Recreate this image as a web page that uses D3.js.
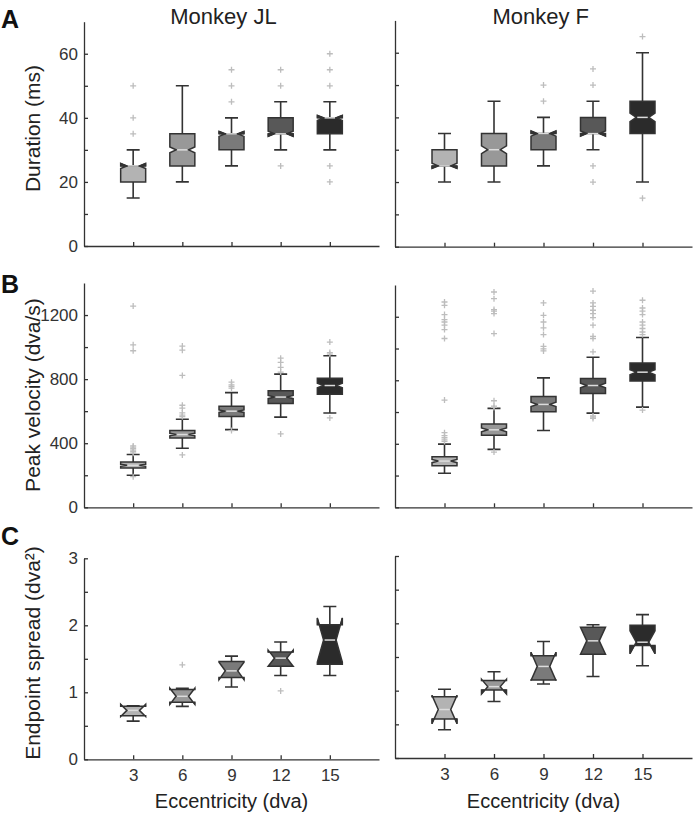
<!DOCTYPE html>
<html><head><meta charset="utf-8">
<script src="https://cdn.jsdelivr.net/npm/d3@7"></script>
<style>
body{margin:0;background:#fff}
text{font-family:"Liberation Sans",Arial,Helvetica,sans-serif}
</style>
</head><body>
<svg id="chart" width="694" height="815"></svg>
<script>
// ---------- DATA ----------
const eccentricities = [3, 6, 9, 12, 15];
const panelTitles = ["Monkey JL", "Monkey F"];
const rowLabels = ["Duration (ms)", "Peak velocity (dva/s)", "Endpoint spread (dva²)"];
const panelLetters = ["A", "B", "C"];
const xAxisLabel = "Eccentricity (dva)";

// each row: [whiskerLow, q1, median, q3, whiskerHigh, notchHalf]
const durationJL = [[15,20,25,25,30,0.8],[20,25,30,35,50,0.9],[25,30,35,35,40,0.8],[30,35,35,40,45,0.8],[30,35,40,40,45,0.8]];
const durationJLOut = [[35,40,50],[],[45,50,55],[25,50,55],[20,25,50,55,60]];
const durationF = [[20,25,25,30,35,0.8],[20,25,30,35,45,1.2],[25,30,35,35,40,0.8],[30,35,35,40,45,0.8],[20,35,40,45,60,1.3]];
const durationFOut = [[],[],[45,50],[20,25,50,55],[15,65]];

const velocityJL = [[200,245,262,282,330,6],[369,433,454,479,550,8],[485,566,600,631,716,8],[563,648,688,727,831,10],[589,706,760,806,946,14]];
const velocityJLOut = [
  [191,338,348,357,366,375,383,977,1014,1256],
  [327,566,575,589,619,637,823,981,1006],
  [479,744,755,764,781],
  [458,844,873,904,931],
  [558,956,966,1031]];
const velocityF = [[214,262,291,318,398,10],[365,453,488,524,623,12],[484,601,648,698,815,14],[593,717,767,811,945,14],[631,796,851,908,1069,16]];
const velocityFOut = [
  [415,425,438,452,470,675,1063,1119,1147,1167,1182,1214,1272,1293],
  [348,629,637,671,1094,1220,1235,1245,1314,1356],
  [985,998,1014,1088,1130,1167,1209,1287],
  [560,568,575,979,1063,1077,1147,1195,1220,1241,1266,1287,1362],
  [612,1088,1104,1126,1147,1167,1214,1235,1255,1304]];

const spreadJL = [[0.57,0.65,0.73,0.79,0.80,0.09],[0.79,0.85,0.94,1.04,1.06,0.12],[1.08,1.22,1.32,1.46,1.54,0.13],[1.25,1.39,1.51,1.60,1.75,0.12],[1.25,1.42,1.78,2.01,2.28,0.33]];
const spreadJLOut = [[],[1.41],[],[1.02],[]];
const spreadF = [[0.42,0.58,0.72,0.91,1.02,0.21],[0.84,1.01,1.06,1.15,1.28,0.11],[1.10,1.16,1.36,1.52,1.73,0.21],[1.21,1.54,1.74,1.94,1.98,0.20],[1.37,1.67,1.72,1.97,2.13,0.17]];
const spreadFOut = [[],[],[],[],[]];

const durationTicks = [0,10,20,30,40,50,60];
const durationLabels = [0,20,40,60];
const velocityTicks = [0,200,400,600,800,1000,1200];
const velocityLabels = [0,400,800,1200];
const spreadTicks = [0,0.5,1,1.5,2,2.5,3];
const spreadLabels = [0,1,2,3];

// ---------- STYLE ----------
const boxFills = ["#b3b3b3","#989898","#7a7a7a","#585858","#2b2b2b"];
const edge = "#333333";
const font = "'Liberation Sans',Arial,Helvetica,sans-serif";

const svg = d3.select("#chart");

const panels = [
  {stats:durationJL, out:durationJLOut, yd:[0,70], xr:[84,379], yr:[246,21.7], ticks:durationTicks, labels:durationLabels, showY:true, showX:false},
  {stats:durationF, out:durationFOut, yd:[0,70], xr:[395,692], yr:[246.7,20.4], ticks:durationTicks, labels:durationLabels, showY:false, showX:false},
  {stats:velocityJL, out:velocityJLOut, yd:[0,1400], xr:[84,379], yr:[507.3,283], ticks:velocityTicks, labels:velocityLabels, showY:true, showX:false},
  {stats:velocityF, out:velocityFOut, yd:[0,1400], xr:[395,692], yr:[507.3,285], ticks:velocityTicks, labels:velocityLabels, showY:false, showX:false},
  {stats:spreadJL, out:spreadJLOut, yd:[0,3], xr:[84,379], yr:[759.3,558.3], ticks:spreadTicks, labels:spreadLabels, showY:true, showX:true},
  {stats:spreadF, out:spreadFOut, yd:[0,3], xr:[395,692], yr:[758,556], ticks:spreadTicks, labels:spreadLabels, showY:false, showX:true}
];

const hw = 12.5, nw = 6.25, capW = 6.5;

function drawPanel(p) {
  const x = d3.scaleLinear().domain([0,18]).range(p.xr);
  const y = d3.scaleLinear().domain(p.yd).range(p.yr);
  const g = svg.append("g");

  const ya = d3.axisLeft(y).tickValues(p.ticks).tickSize(-4).tickSizeOuter(0).tickPadding(6)
    .tickFormat(d => (p.showY && p.labels.includes(d)) ? String(d) : "");
  g.append("g").attr("transform", `translate(${p.xr[0]},0)`).call(ya);
  const xa = d3.axisBottom(x).tickValues(eccentricities).tickSize(-4).tickSizeOuter(0).tickPadding(10)
    .tickFormat(d => p.showX ? String(d) : "");
  g.append("g").attr("transform", `translate(0,${y(0)})`).call(xa);
  g.selectAll(".domain, .tick line").attr("stroke", "#333").attr("stroke-width", 1.3);
  g.selectAll(".tick text").attr("font-size", 17).attr("fill", "#333").attr("font-family", font);

  const line = d3.line();
  p.stats.forEach((s, i) => {
    const [lo, q1, med, q3, hi, nh] = s;
    const cx = x(eccentricities[i]);
    const col = boxFills[i];
    // whiskers
    g.append("path")
      .attr("d", `M${cx},${y(q3)}V${y(hi)}M${cx-capW},${y(hi)}H${cx+capW}M${cx},${y(q1)}V${y(lo)}M${cx-capW},${y(lo)}H${cx+capW}`)
      .attr("stroke", edge).attr("stroke-width", 1.6).attr("fill", "none");
    // notched box
    const nlo = med - nh, nhi = med + nh;
    const pts = [[cx-hw,y(q1)],[cx-hw,y(nlo)],[cx-nw,y(med)],[cx-hw,y(nhi)],[cx-hw,y(q3)],
                 [cx+hw,y(q3)],[cx+hw,y(nhi)],[cx+nw,y(med)],[cx+hw,y(nlo)],[cx+hw,y(q1)]];
    g.append("path").attr("d", line(pts) + "Z")
      .attr("fill", col).attr("stroke", edge).attr("stroke-width", 1.5).attr("stroke-linejoin", "miter");
    // folded notch horns (parts of the notch beyond the box) drawn dark
    [-1, 1].forEach(sd => {
      if (nhi > q3) {
        const t = Math.max(0, (q3 - med) / nh);
        const xc = cx + sd * (nw + t * (hw - nw));
        g.append("path").attr("d", line([[cx+sd*hw, y(nhi)], [cx+sd*hw, y(q3)], [xc, y(q3)]]) + "Z")
          .attr("fill", edge).attr("stroke", edge).attr("stroke-width", 1);
      }
      if (nlo < q1) {
        const t = Math.max(0, (med - q1) / nh);
        const xc = cx + sd * (nw + t * (hw - nw));
        g.append("path").attr("d", line([[cx+sd*hw, y(nlo)], [cx+sd*hw, y(q1)], [xc, y(q1)]]) + "Z")
          .attr("fill", edge).attr("stroke", edge).attr("stroke-width", 1);
      }
    });
    // median
    g.append("line").attr("x1", cx-nw+1).attr("x2", cx+nw-1).attr("y1", y(med)).attr("y2", y(med))
      .attr("stroke", "#dcdcdc").attr("stroke-width", 1.5);
    // outliers
    p.out[i].forEach(v => {
      const oy = y(v);
      g.append("path").attr("d", `M${cx-3},${oy}H${cx+3}M${cx},${oy-3}V${oy+3}`)
        .attr("stroke", "#bdbdbd").attr("stroke-width", 1.3);
    });
  });
}
panels.forEach(drawPanel);

// titles
[[223.5, panelTitles[0]], [540.7, panelTitles[1]]].forEach(([tx, t]) => {
  svg.append("text").attr("x", tx).attr("y", 24).attr("text-anchor", "middle")
    .attr("font-size", 22).attr("fill", "#222").text(t);
});
// panel letters
[[28, panelLetters[0]], [293, panelLetters[1]], [545, panelLetters[2]]].forEach(([ty, t]) => {
  svg.append("text").attr("x", 1).attr("y", ty).attr("font-size", 25).attr("font-weight", "bold")
    .attr("fill", "#111").text(t);
});
// y labels
[[128.5, rowLabels[0]], [395, rowLabels[1]], [653, rowLabels[2]]].forEach(([cy, t]) => {
  svg.append("text").attr("transform", `translate(39.5,${cy}) rotate(-90)`).attr("text-anchor", "middle")
    .attr("font-size", 21).attr("fill", "#222").text(t);
});
// x labels
[231.5, 543.5].forEach(cx => {
  svg.append("text").attr("x", cx).attr("y", 808).attr("text-anchor", "middle")
    .attr("font-size", 20).attr("fill", "#222").text(xAxisLabel);
});
</script>
</body></html>
